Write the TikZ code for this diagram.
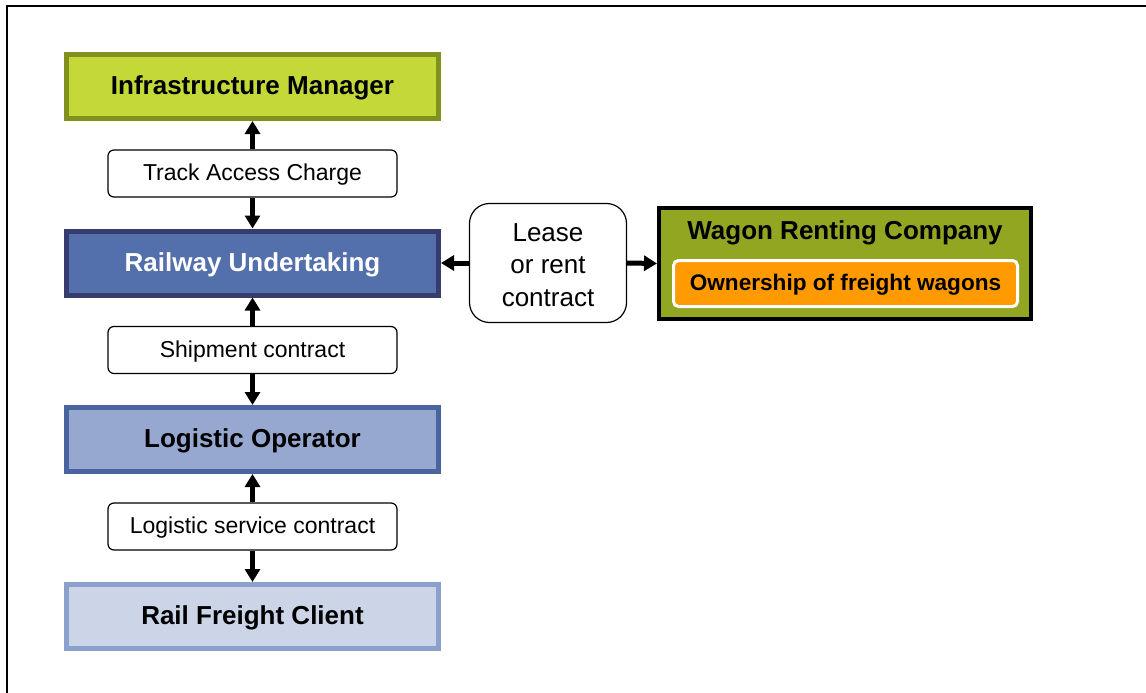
\documentclass[tikz,border=0pt]{standalone}
\usepackage{fontspec}
\setmainfont{Liberation Sans}
\usetikzlibrary{arrows.meta}
\definecolor{imfill}{RGB}{196,216,56}
\definecolor{imdraw}{RGB}{128,145,31}
\definecolor{rufill}{RGB}{83,112,172}
\definecolor{rudraw}{RGB}{54,60,110}
\definecolor{lofill}{RGB}{151,168,208}
\definecolor{lodraw}{RGB}{74,100,160}
\definecolor{rffill}{RGB}{204,213,232}
\definecolor{rfdraw}{RGB}{140,160,204}
\definecolor{wgfill}{RGB}{147,166,33}
\definecolor{orfill}{RGB}{255,154,0}
\tikzset{
  bigtxt/.style={font=\fontsize{26}{30}\selectfont\bfseries, text height=19pt, text depth=3pt},
  smalltxt/.style={font=\fontsize{23}{27}\selectfont, text height=16.8pt, text depth=2.6pt},
  actor/.style={draw, line width=5pt, minimum width=372pt, minimum height=64pt, inner sep=0pt, bigtxt},
  contract/.style={draw, line width=1.2pt, rounded corners=6pt, fill=white, minimum width=289pt,
    minimum height=47pt, inner sep=0pt, smalltxt},
  link/.style={line width=5pt, -{Triangle[width=15pt,length=13pt]}},
}
\begin{document}
\begin{tikzpicture}[x=1pt,y=-1pt]
\useasboundingbox (0,0) rectangle (1146,693);
\draw[line width=2pt] (6.5,693) -- (6.5,6.5) -- (1146,6.5);

\node[actor, fill=imfill, draw=imdraw] (im) at (252.5,86.5) {Infrastructure Manager};
\node[actor, fill=rufill, draw=rudraw, text=white] (ru) at (252.5,263) {Railway Undertaking};
\node[actor, fill=lofill, draw=lodraw] (lo) at (252.5,439.5) {Logistic Operator};
\node[actor, fill=rffill, draw=rfdraw] (rf) at (252.5,616.5) {Rail Freight Client};

\node[contract] (tac) at (252.5,173.5) {Track Access Charge};
\node[contract] (sc) at (252.5,350) {Shipment contract};
\node[contract] (lsc) at (252.5,526.5) {Logistic service contract};

\node[draw, line width=1.2pt, rounded corners=20pt, minimum width=157pt, minimum height=119pt,
  inner sep=0pt] (lease) at (548,263) {};
\node[align=center, inner sep=0pt, font=\fontsize{26}{32.5}\selectfont] (leaset) at (548,265)
  {Lease\\or rent\\contract};

\node[draw=black, fill=wgfill, line width=4pt, minimum width=372pt, minimum height=111pt, inner sep=0pt] (wg) at (845,263.5) {};
\node[bigtxt, inner sep=0pt] (wgt) at (845,231) {Wagon Renting Company};
\node[draw=white, fill=orfill, line width=3pt, rounded corners=5pt, minimum width=344pt, minimum height=46pt,
  inner sep=0pt, font=\fontsize{22.6}{26}\selectfont\bfseries, text height=16.5pt, text depth=2.6pt] (own) at (845.5,283.5) {Ownership of freight wagons};

\draw[link] (tac.north) -- (im.south);
\draw[link] (tac.south) -- (ru.north);
\draw[link] (sc.north) -- (ru.south);
\draw[link] (sc.south) -- (lo.north);
\draw[link] (lsc.north) -- (lo.south);
\draw[link] (lsc.south) -- (rf.north);
\draw[link] (lease.west) -- (ru.east);
\draw[link] (lease.east) -- (wg.west);
\end{tikzpicture}
\end{document}
